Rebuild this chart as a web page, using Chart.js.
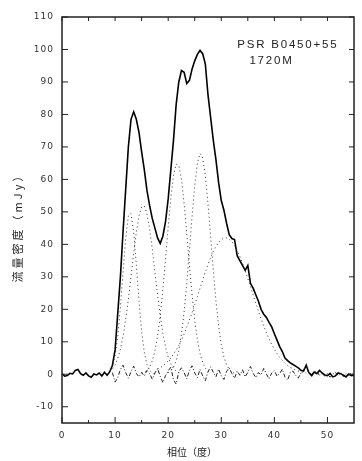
<!DOCTYPE html>
<html><head><meta charset="utf-8">
<script src="https://cdn.jsdelivr.net/npm/chart.js@4/dist/chart.umd.min.js"></script>
<style>html,body{margin:0;padding:0;background:#fff}canvas{display:block}</style>
</head><body>
<canvas id="c" width="362" height="461"></canvas>
<script>
// ---- data ----
const phase = [0,0.5,1,1.5,2,2.5,3,3.5,4,4.5,5,5.5,6,6.5,7,7.5,8,8.5,9,9.5,10,10.5,11,11.5,12,12.5,13,13.5,14,14.5,15,15.5,16,16.5,17,17.5,18,18.5,19,19.5,20,20.5,21,21.5,22,22.5,23,23.5,24,24.5,25,25.5,26,26.5,27,27.5,28,28.5,29,29.5,30,30.5,31,31.5,32,32.5,33,33.5,34,34.5,35,35.5,36,36.5,37,37.5,38,38.5,39,39.5,40,40.5,41,41.5,42,42.5,43,43.5,44,44.5,45,45.5,46,46.5,47,47.5,48,48.5,49,49.5,50,50.5,51,51.5,52,52.5,53,53.5,54,54.5,55];
const fluxDensity = [0.2,-0.6,-0.4,0.3,0.1,1.2,1.5,0.2,-0.3,0.4,-0.5,-0.9,0.1,-0.2,0.4,-0.5,0.6,-0.3,0.8,2.8,7.5,18.7,30,44,57,70,78.5,80.8,78.5,74.5,68.5,63,56.6,52,48,45,42,40.3,42.5,47,54,63,72,83,90,93.5,93,89.5,90.5,94,96.5,98.5,99.7,98.7,95.5,86,79,72,66,59,53.5,50.5,46.5,43,41.8,41.5,36.5,35,33.5,32,33.5,28,26.5,24.5,22.5,20,18.5,17.5,16,14.6,12.5,10.5,8.5,7,5,4.2,3.5,3,2.5,2,1.2,1.0,2.8,0.5,-0.3,0.7,0.2,1.2,0.4,-0.2,-0.4,0.3,-0.8,-0.5,0.4,0.2,-0.3,-0.8,0.1,-0.4,-0.3];

const residPhase = [9.5,10,10.5,11,11.5,12,12.5,13,13.5,14,14.5,15,15.5,16,16.5,17,17.5,18,18.5,19,19.5,20,20.5,21,21.5,22,22.5,23,23.5,24,24.5,25,25.5,26,26.5,27,27.5,28,28.5,29,29.5,30,30.5,31,31.5,32,32.5,33,33.5,34,34.5,35,35.5,36,36.5,37,37.5,38,38.5,39,39.5,40,40.5,41,41.5,42,42.5,43,43.5,44,44.5,45,45.5,46,46.5,47,47.5,48,48.5,49,49.5,50,50.5,51,51.5,52,52.5,53,53.5,54,54.5,55];
const residual = [0.5,-2.4,-1.0,1.5,2.8,0.5,-1.2,0.8,2.5,0.3,-0.8,0.6,-0.5,1.2,0.2,-1.5,0.4,1.8,-0.6,-2.6,-0.4,1.0,2.2,-1.8,-3.0,0.8,2.0,0.5,-1.4,1.2,2.6,0.4,-1.0,1.5,-0.5,-2.0,0.8,2.3,0.6,-0.8,1.6,-0.4,-1.6,0.9,2.0,0.2,-1.2,1.0,-0.3,1.4,-0.8,0.6,2.4,0.3,-1.0,0.5,-0.2,1.8,0.1,-1.4,0.4,1.2,-0.6,0.2,1.6,-0.9,-1.8,0.6,1.0,-0.3,-1.2,0.4,1.5,2.4,0.2,-0.8,0.5,1.0,-0.4,0.3,-0.6,0.2,-0.9,0.1,0.6,-0.4,0.3,-0.7,0.2,-0.3,0.4,-0.2];

const comp1Phase = [9,9.5,10,10.5,11,11.5,12,12.5,13,13.5,14,14.5,15,15.5,16,16.5,17,17.5];
const comp1 = [1.0,2.5,5.8,11.7,20.6,31.4,41.9,48.8,49.5,43.7,33.7,22.6,13.3,6.8,3.0,1.2,0.4,0.1];
const comp2Phase = [9,9.5,10,10.5,11,11.5,12,12.5,13,13.5,14,14.5,15,15.5,16,16.5,17,17.5,18,18.5,19,19.5,20,20.5,21,21.5,22];
const comp2 = [0.9,1.6,2.9,4.8,7.7,11.7,16.9,23.1,30.1,37.2,43.7,48.7,51.5,51.8,49.4,44.8,38.6,31.5,24.5,18.0,12.6,8.4,5.3,3.2,1.8,1.0,0.5];
const comp3Phase = [15,15.5,16,16.5,17,17.5,18,18.5,19,19.5,20,20.5,21,21.5,22,22.5,23,23.5,24,24.5,25,25.5,26,26.5,27,27.5,28];
const comp3 = [0.2,0.5,1.1,2.2,4.1,7.2,11.7,18.1,26.1,35.5,45.3,54.3,61.1,64.7,64.3,60.0,52.6,43.4,33.6,24.4,16.7,10.7,6.4,3.6,1.9,1.0,0.4];
const comp4Phase = [20,20.5,21,21.5,22,22.5,23,23.5,24,24.5,25,25.5,26,26.5,27,27.5,28,28.5,29,29.5,30,30.5,31,31.5,32,32.5];
const comp4 = [0.5,1.1,2.2,4.2,7.4,12.4,19.2,27.9,38.1,48.6,58.0,64.9,68.0,66.6,61.1,52.5,42.3,31.9,22.5,14.9,9.2,5.3,2.9,1.5,0.7,0.3];
const comp5Phase = [18,18.5,19,19.5,20,20.5,21,21.5,22,22.5,23,23.5,24,24.5,25,25.5,26,26.5,27,27.5,28,28.5,29,29.5,30,30.5,31,31.5,32,32.5,33,33.5,34,34.5,35,35.5,36,36.5,37,37.5,38,38.5,39,39.5,40,40.5,41,41.5,42,42.5,43,43.5,44,45,46];
const comp5 = [1.6,2.0,2.6,3.3,4.1,5.0,6.2,7.4,8.9,10.6,12.4,14.5,16.7,19.0,21.4,23.9,26.5,29.0,31.5,33.8,35.9,37.8,39.4,40.6,41.5,41.9,42.0,41.6,40.8,39.6,38.1,36.3,34.2,31.9,29.5,27.0,24.4,21.9,19.5,17.1,14.9,12.8,10.9,9.2,7.7,6.4,5.2,4.3,3.4,2.7,2.1,1.7,1.3,0.7,0.4];

const xMajorTicks = [0,10,20,30,40,50];
const xMinorTicks = [5,15,25,35,45];
const yMajorTicks = [-10,0,10,20,30,40,50,60,70,80,90,100,110];

const annotationLines = ['PSR B0450+55', '1720M'];
const xTitle = '相位（度）';
const yTitle = '流量密度（mJy）';

// ---- build ----
const pts = (xs, ys) => xs.map((v, i) => ({x: v, y: ys[i]}));
const dotted = (xs, ys) => ({data: pts(xs, ys), borderColor: '#333', borderWidth: 1, borderDash: [1, 3], pointRadius: 0, fill: false, tension: 0});

const decor = {
  id: 'decor',
  beforeDraw(chart) { chart.ctx.letterSpacing = '1px'; },
  afterDraw(chart, args, o) {
    const {ctx, chartArea: a, scales: {x, y}} = chart;
    ctx.save();
    ctx.letterSpacing = '0px';
    ctx.strokeStyle = '#222';
    ctx.lineWidth = 1.5;
    ctx.strokeRect(a.left, a.top, a.right - a.left, a.bottom - a.top);
    ctx.lineWidth = 1;
    const seg = (x1, y1, x2, y2) => { ctx.beginPath(); ctx.moveTo(x1, y1); ctx.lineTo(x2, y2); ctx.stroke(); };
    xMajorTicks.forEach(v => { const p = x.getPixelForValue(v); seg(p, a.bottom, p, a.bottom - 6); seg(p, a.top, p, a.top + 4); });
    xMinorTicks.forEach(v => { const p = x.getPixelForValue(v); seg(p, a.bottom, p, a.bottom - 3); seg(p, a.top, p, a.top + 4); });
    yMajorTicks.forEach(v => { const p = y.getPixelForValue(v); seg(a.left, p, a.left + 6, p); seg(a.right, p, a.right - 5, p); });

    ctx.fillStyle = '#222';
    // annotation
    ctx.font = '11.5px "Liberation Sans", Arial, sans-serif';
    ctx.letterSpacing = '1.8px';
    ctx.textAlign = 'left';
    ctx.textBaseline = 'alphabetic';
    o.annot.forEach((t, i) => ctx.fillText(annotationLines[i], x.getPixelForValue(t.x), y.getPixelForValue(t.y)));
    // x title
    ctx.font = '10px "Noto Sans CJK SC", sans-serif';
    ctx.letterSpacing = '0px';
    ctx.textAlign = 'center';
    ctx.textBaseline = 'middle';
    ctx.fillText(xTitle, o.xTitlePos.x, o.xTitlePos.y);
    // y title
    ctx.translate(o.yTitlePos.x, o.yTitlePos.y);
    ctx.rotate(-Math.PI / 2);
    ctx.font = '11px "Noto Sans CJK SC", sans-serif';
    ctx.letterSpacing = '3px';
    ctx.fillText(yTitle, 0, 0);
    ctx.restore();
  }
};

new Chart(document.getElementById('c'), {
  type: 'line',
  data: {
    datasets: [
      dotted(comp1Phase, comp1),
      dotted(comp2Phase, comp2),
      dotted(comp3Phase, comp3),
      dotted(comp4Phase, comp4),
      dotted(comp5Phase, comp5),
      {data: pts(residPhase, residual), borderColor: '#222', borderWidth: 1, borderDash: [4, 2, 1, 2], pointRadius: 0, tension: 0},
      {data: pts(phase, fluxDensity), borderColor: '#000', borderWidth: 1.6, pointRadius: 0, tension: 0}
    ]
  },
  options: {
    responsive: false,
    devicePixelRatio: 1,
    animation: false,
    layout: {padding: {left: 0, right: 8, top: 17, bottom: 0}},
    plugins: {
      legend: {display: false},
      tooltip: {enabled: false},
      decor: {
        annot: [{x: 33, y: 100.6}, {x: 35.3, y: 95.4}],
        xTitlePos: {x: 192, y: 452},
        yTitlePos: {x: 18, y: 225}
      }
    },
    scales: {
      x: {
        type: 'linear', min: 0, max: 55,
        afterBuildTicks: s => { s.ticks = xMajorTicks.map(v => ({value: v})); },
        afterFit: s => { s.height = 38; },
        grid: {display: false, drawTicks: false},
        border: {display: false},
        ticks: {font: {family: 'DejaVu Sans', size: 9}, color: '#333', padding: 7, maxRotation: 0}
      },
      y: {
        type: 'linear', min: -15, max: 110,
        afterBuildTicks: s => { s.ticks = yMajorTicks.map(v => ({value: v})); },
        afterFit: s => { s.width = 62; },
        grid: {display: false, drawTicks: false},
        border: {display: false},
        ticks: {font: {family: 'DejaVu Sans', size: 9}, color: '#333', padding: 8}
      }
    }
  },
  plugins: [decor]
});
</script>
</body></html>
